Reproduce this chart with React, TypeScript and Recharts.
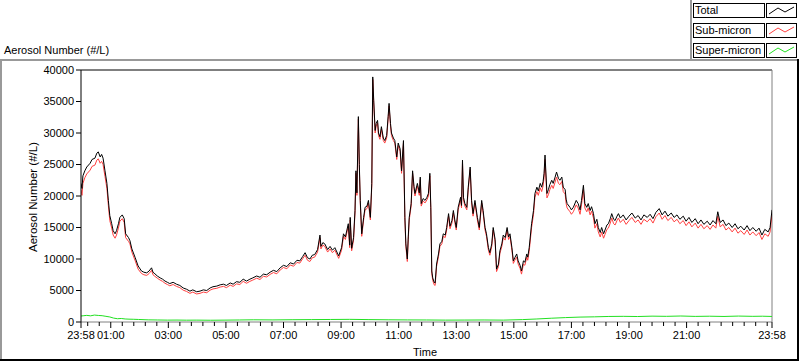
import React from "react";
import { LineChart, Line, XAxis, YAxis, ReferenceLine } from "recharts";

const FONT = '"Liberation Sans", Arial, sans-serif';

// time in minutes since 23:58
const timeMin = [
  0,2,4,8,12,19,23,29,33,36,
  40,43,46,50,54,57,60,64,67,71,
  74,78,81,86,90,93,99,102,106,113,
  119,126,131,137,142,147,150,154,159,165,
  170,175,180,185,192,199,206,213,220,227,
  233,241,248,255,262,269,275,283,290,297,
  303,311,317,324,331,338,345,352,358,366,
  373,380,387,394,401,408,415,422,429,436,
  443,450,456,462,467,472,477,482,487,493,
  498,500,504,508,514,519,524,529,537,543,
  547,551,557,560,561,564,568,571,573,575,
  578,580,582,585,589,592,596,599,603,606,
  608,610,613,615,618,620,623,626,630,633,
  637,640,642,645,647,651,654,658,661,665,
  668,672,675,677,680,682,684,688,691,694,
  696,701,705,707,709,713,717,721,724,727,
  729,731,733,736,738,741,745,748,752,755,
  759,762,766,769,773,776,779,782,786,791,
  793,795,797,800,804,807,811,814,817,821,
  826,830,835,838,842,845,849,852,856,859,
  863,866,870,873,877,880,884,888,891,894,
  898,901,904,908,911,915,918,922,925,929,
  931,934,939,943,946,950,953,957,960,963,
  965,967,971,974,977,981,984,988,991,995,
  998,1002,1005,1009,1011,1013,1019,1022,1026,1032,
  1036,1040,1043,1047,1050,1054,1057,1061,1064,1068,
  1071,1075,1078,1082,1085,1089,1092,1096,1099,1103,
  1106,1110,1113,1117,1120,1124,1130,1136,1142,1148,
  1155,1161,1167,1173,1180,1186,1192,1198,1205,1211,
  1217,1223,1230,1236,1242,1248,1255,1261,1267,1273,
  1280,1286,1292,1298,1305,1311,1317,1323,1327,1332,
  1338,1344,1350,1357,1363,1369,1375,1382,1388,1394,
  1400,1407,1413,1419,1425,1432,1436,1440,
];

const total = [
  22000,21200,23200,24000,24600,25200,25800,26000,26800,27000,
  26200,26600,26000,24000,22000,19300,16900,15600,14500,14000,
  14500,15600,16600,17000,16400,14000,13400,12900,11600,10200,
  8900,8100,7900,7800,8100,8600,7900,7650,7300,7000,
  6800,6500,6300,6100,6300,6000,5800,5400,5200,4900,
  5100,4800,4900,5100,5000,5400,5600,5700,5900,6000,
  5800,6200,6000,6400,6300,6800,6500,6800,7000,7300,
  7100,7600,7500,7900,8200,8000,8600,9000,8800,9400,
  9200,9800,9700,10400,11000,10200,10000,10600,10700,11500,
  13800,12000,12600,12400,11500,12000,11400,11800,10500,11800,
  14000,13500,15600,12200,16600,11700,13400,17700,24000,20500,
  32600,25000,19300,14000,16600,18200,18400,19300,16600,22000,
  38900,35200,30400,31500,32000,30000,29400,31000,29200,28800,
  29600,32600,34700,31500,30000,29200,28800,26200,28400,27500,
  24000,28800,16600,12400,10000,13500,16600,18800,24000,21500,
  20400,22000,20500,23000,18800,19600,19300,19800,20400,23600,
  18200,8100,7000,6300,6200,9200,10800,12400,12800,14000,
  13800,15000,17200,15200,16100,17700,16200,15000,18200,19800,
  18500,25700,19800,18800,18200,21400,24600,19300,17200,19300,
  16600,15000,19300,17700,15000,14000,11800,11000,12400,15000,
  13100,8400,9200,11300,12400,13800,13400,15000,13500,14000,
  11800,9700,10200,10800,9700,9000,8100,9700,9500,10800,
  10300,11800,15600,17700,20400,21400,20800,22000,21400,22300,
  23600,26500,20400,21000,21800,22500,22000,23000,23800,22800,
  22500,23000,21400,21000,19500,18800,18200,17800,18200,19300,
  18800,17800,19300,21700,18800,18200,18800,17700,18300,17200,
  15600,16300,15000,14200,15000,14000,14600,15400,15600,16400,
  17200,16300,16100,16800,17200,16500,17000,16200,16800,17300,
  16500,16900,16200,17000,16600,17100,16400,17400,18000,17000,
  17600,16800,17300,16600,17000,16300,16800,16000,16600,15800,
  16400,15600,16200,15500,16000,15400,16100,15600,17500,15800,
  16200,15300,15700,15000,15600,14800,15200,14600,15300,14500,
  15000,14400,14900,13800,14700,14300,15000,17800,
];

const subMicron = [
  21000,20100,22000,22900,23500,24100,24700,24900,25700,25900,
  25200,25500,25000,23100,21200,18500,16100,14900,13800,13300,
  13800,14900,16000,16400,15800,13400,12800,12400,11100,9700,
  8400,7700,7500,7400,7700,8200,7500,7250,6950,6650,
  6450,6150,5950,5750,5950,5650,5450,5050,4850,4550,
  4750,4450,4550,4750,4650,5050,5250,5350,5550,5650,
  5450,5850,5650,6050,5950,6450,6150,6450,6650,6950,
  6750,7250,7150,7550,7850,7650,8250,8650,8450,9050,
  8850,9450,9350,10050,10600,9800,9600,10200,10300,11100,
  13400,11600,12200,12000,11100,11600,11000,11400,10100,11400,
  13600,13100,15200,11800,16200,11300,13000,17300,23600,20100,
  32200,24600,18900,13600,16200,17800,18000,18900,16200,21600,
  38500,34800,30000,31100,31600,29600,29000,30600,28800,28400,
  29200,32200,34300,31100,29600,28800,28400,25800,28000,27100,
  23600,28400,16200,12000,9600,13100,16200,18400,23600,21100,
  20000,21600,20100,22600,18400,19200,18900,19400,20000,23200,
  17800,7700,6600,5900,5800,8800,10400,12000,12400,13600,
  13400,14600,16800,14800,15700,17300,15800,14600,17800,19400,
  18100,25300,19400,18400,17800,21000,24200,18900,16800,18900,
  16200,14600,18900,17300,14600,13600,11400,10600,12000,14600,
  12700,8000,8800,10900,12000,13400,13000,14600,13100,13600,
  11400,9300,9800,10300,9200,8500,7600,9200,9000,10300,
  9800,11200,15000,17100,19800,20700,20100,21300,20700,21600,
  22900,25800,19700,20200,21000,21700,21200,22200,23000,22000,
  21800,22300,20700,20300,18800,18100,17500,17100,17500,18600,
  18100,17100,18600,21000,18100,17500,18100,17000,17600,16500,
  14900,15600,14300,13500,14300,13300,13900,14700,14900,15700,
  16500,15600,15400,16100,16500,15800,16300,15500,16100,16600,
  15800,16200,15500,16300,15900,16400,15700,16700,17300,16300,
  16900,16100,16600,15900,16300,15600,16100,15300,15900,15100,
  15700,14900,15500,14800,15300,14700,15400,14900,16800,15100,
  15500,14600,15000,14300,14900,14100,14500,13900,14600,13800,
  14300,13700,14200,13100,14000,13600,14300,17100,
];

const superTime = [
  0,6,12,20,28,36,44,52,60,68,
  76,84,92,100,110,120,140,160,180,200,
  220,240,270,300,330,360,400,440,480,520,
  560,600,640,680,720,760,800,840,880,920,
  950,980,1010,1040,1070,1100,1130,1160,1190,1220,
  1250,1280,1310,1340,1370,1400,1420,1440,
];
const superMicron = [
  950,1000,1050,980,1100,1040,1000,900,800,620,
  520,560,480,450,430,400,340,320,300,310,
  290,300,280,300,320,350,330,360,380,400,
  420,380,350,330,320,300,310,320,300,380,
  480,600,700,780,820,880,900,870,930,900,
  950,890,920,880,940,900,920,880,
];

const seriesNames = ["Total", "Sub-micron", "Super-micron"];
const seriesColors = ["#000000", "#ff4040", "#22e022"];

const yTicks = [0, 5000, 10000, 15000, 20000, 25000, 30000, 35000, 40000];
const majorTicks = [0, 62, 182, 302, 422, 542, 662, 782, 902, 1022, 1142, 1262, 1440];
const majorLabels = ["23:58", "01:00", "03:00", "05:00", "07:00", "09:00", "11:00", "13:00", "15:00", "17:00", "19:00", "21:00", "23:58"];
const minorTicks = [
  14, 38, 86, 110, 134, 158, 206, 230, 254, 278, 326, 350, 374, 398,
  446, 470, 494, 518, 566, 590, 614, 638, 686, 710, 734, 758, 806, 830,
  854, 878, 926, 950, 974, 998, 1046, 1070, 1094, 1118, 1166, 1190, 1214,
  1238, 1286, 1310, 1334, 1358, 1382, 1406, 1430,
];
const allXTicks = [...majorTicks, ...minorTicks].sort((a, b) => a - b);

const totalData = timeMin.map((t, i) => ({ t, v: total[i] }));
const subData = timeMin.map((t, i) => ({ t, v: subMicron[i] }));
const superData = superTime.map((t, i) => ({ t, v: superMicron[i] }));

function XTick(props: any) {
  const { x, y, payload } = props;
  const idx = majorTicks.indexOf(payload.value);
  const isMajor = idx >= 0;
  return (
    <g>
      <line x1={x} x2={x} y1={y} y2={y + (isMajor ? 6 : 4)} stroke="#000" strokeWidth={1} />
      {isMajor && (
        <text x={x} y={y + 17} textAnchor="middle" fill="#000" fontSize={11} fontFamily={FONT}>
          {majorLabels[idx]}
        </text>
      )}
    </g>
  );
}

const abs = (s: React.CSSProperties): React.CSSProperties => ({ position: "absolute", ...s });

export default function App() {
  return (
    <div style={abs({ left: 0, top: 0, width: 800, height: 361, background: "#fff", overflow: "hidden" })}>
      <div style={abs({ left: 0, top: 0 })}>
        <LineChart width={800} height={361} margin={{ top: 70, right: 28, left: 0, bottom: 0 }}>
          <XAxis
            dataKey="t"
            type="number"
            domain={[0, 1440]}
            ticks={allXTicks}
            interval={0}
            height={39}
            tickSize={0}
            tickMargin={0}
            tickLine={false}
            axisLine={{ stroke: "#808080" }}
            tick={(p: any) => <XTick {...p} />}
            allowDataOverflow
          />
          <YAxis
            type="number"
            domain={[0, 40000]}
            ticks={yTicks}
            interval={0}
            width={81}
            tickSize={5}
            tickMargin={2}
            tickLine={{ stroke: "#000" }}
            axisLine={{ stroke: "#000" }}
            tick={{ fill: "#000", fontSize: 11, fontFamily: FONT }}
            allowDataOverflow
          />
          <ReferenceLine y={40000} stroke="#000" />
          <ReferenceLine x={1440} stroke="#808080" />
          <Line data={superData} dataKey="v" type="linear" stroke={seriesColors[2]} strokeWidth={1} dot={false} isAnimationActive={false} />
          <Line data={subData} dataKey="v" type="linear" stroke={seriesColors[1]} strokeWidth={1} dot={false} isAnimationActive={false} />
          <Line data={totalData} dataKey="v" type="linear" stroke={seriesColors[0]} strokeWidth={1} dot={false} isAnimationActive={false} />
        </LineChart>
      </div>
      <svg width={800} height={361} style={abs({ left: 0, top: 0, pointerEvents: "none" })}>
        <text x={4} y={54} fontSize={11} fontFamily={FONT} fill="#000">Aerosol Number (#/L)</text>
        <text x={425} y={356} fontSize={11} fontFamily={FONT} fill="#000" textAnchor="middle">Time</text>
        <text x={37} y={197} fontSize={11.5} fontFamily={FONT} fill="#000" textAnchor="middle" transform="rotate(-90 37 197)">
          Aerosol Number (#/L)
        </text>
      </svg>
      {/* frame */}
      <div style={abs({ left: 0, top: 59, width: 797, height: 2, background: "#999" })} />
      <div style={abs({ left: 0, top: 59, width: 2, height: 302, background: "#999" })} />
      <div style={abs({ left: 797, top: 59, width: 2, height: 302, background: "#000" })} />
      <div style={abs({ left: 0, top: 359, width: 799, height: 2, background: "#000" })} />
      <div style={abs({ left: 690, top: 0, width: 2, height: 60, background: "#999" })} />
      {/* legend */}
      {seriesNames.map((name, i) => (
        <React.Fragment key={name}>
          <div
            style={abs({
              left: 693,
              top: 3 + 20 * i,
              width: 69,
              height: 13,
              border: "1px solid #000",
              background: "#fff",
              font: `11px ${FONT}`,
              lineHeight: "13px",
              paddingLeft: 1,
              color: "#000",
              whiteSpace: "nowrap",
              overflow: "hidden",
            })}
          >
            {name}
          </div>
          <div style={abs({ left: 766, top: 3 + 20 * i, width: 29, height: 13, border: "1px solid #000", background: "#fff" })}>
            <svg width={29} height={13} style={{ display: "block" }}>
              <polyline points="2,10 11,4 18,8 27,3" fill="none" stroke={seriesColors[i]} strokeWidth={1} />
            </svg>
          </div>
        </React.Fragment>
      ))}
    </div>
  );
}
